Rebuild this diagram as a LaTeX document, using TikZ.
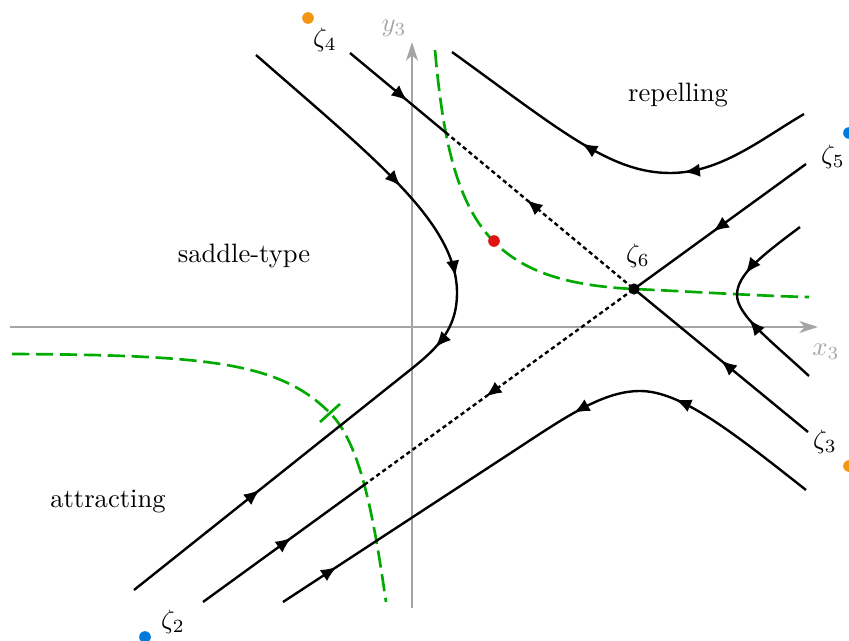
\documentclass[tikz,border=0pt]{standalone}
\usepackage{tikz}
\usetikzlibrary{arrows.meta,decorations.markings,intersections}

\definecolor{sepgreen}{RGB}{0,170,0}
\definecolor{axisgray}{RGB}{165,165,165}
\definecolor{zorange}{RGB}{242,150,20}
\definecolor{zblue}{RGB}{0,122,220}
\definecolor{zred}{RGB}{225,20,20}

\begin{document}
\begin{tikzpicture}[
    x=0.376pt, y=-0.376pt,
    >={Latex[length=6pt,width=5pt]},
    axisline/.style={draw=axisgray, thick, -{Stealth[length=7pt,width=4.5pt,inset=2pt]}},
    axislabel/.style={text=axisgray},
    flow/.style={line width=0.9pt},
    dotline/.style={line width=0.9pt, dash pattern=on 1.6pt off 1.2pt},
    greenline/.style={sepgreen, line width=1pt, dash pattern=on 6.5pt off 2.5pt},
    fw/.style={postaction={decorate, decoration={markings, mark=at position #1 with {\arrow{>}}}}},
    bw/.style={postaction={decorate, decoration={markings, mark=at position #1 with {\arrowreversed{>}}}}},
    region/.style={font=\normalsize}
  ]
  \useasboundingbox (0,0) rectangle (849,641);

  % axes
  \coordinate (xl) at (10,327);
  \coordinate (xr) at (818,327);
  \coordinate (yb) at (412,608);
  \coordinate (yt) at (412,42);
  \draw[axisline] (xl) -- (xr);
  \draw[axisline] (yb) -- (yt);
  \node[axislabel] (xlab) at (826,352) {$x_3$};
  \node[axislabel] (ylab) at (394,28) {$y_3$};

  % green separatrices
  \coordinate (z6) at (634,289);
  \coordinate (tk) at (330,413);
  \draw[greenline, name path=gA] (435,50) .. controls (450,220) and (485,282) .. (z6)
    .. controls (700,292) and (760,296) .. (809,297);
  \draw[greenline, name path=gB] (12,354) .. controls (212,355) and (280,363) .. (tk)
    .. controls (360,443) and (373,512) .. (386,602);
  \coordinate (tk1) at (320,422);
  \coordinate (tk2) at (340,404);
  \draw[sepgreen, line width=1pt] (tk1) -- (tk2);

  % straight lines through zeta_6
  \coordinate (L1a) at (203,602);
  \coordinate (L1b) at (806,164);
  \coordinate (L2a) at (350,53);
  \coordinate (L2b) at (808,432);
  \path[name path=l1] (L1a) -- (z6);
  \path[name path=l2] (L2a) -- (z6);
  \path[name intersections={of=gB and l1, by=cB}];
  \path[name intersections={of=gA and l2, by=cA}];

  \draw[flow, fw=0.55] (L1a) -- (cB);
  \draw[dotline, bw=0.45] (cB) -- (z6);
  \draw[flow, bw=0.46] (z6) -- (L1b);
  \draw[flow, fw=0.6] (L2a) -- (cA);
  \draw[dotline, bw=0.43] (cA) -- (z6);
  \draw[flow, bw=0.5] (z6) -- (L2b);

  % trajectories
  \draw[flow, bw=0.395, bw=0.665] (452,52) .. controls (560,130) and (610,173) .. (670,173)
    .. controls (720,173) and (760,140) .. (804,114);
  \draw[flow, fw=0.255, fw=0.395, fw=0.495, bw=0.79] (256,55) .. controls (376,160) and (457,223) .. (457,293)
    .. controls (457,335) and (430,354) .. (400,378) -- (134,590);
  \draw[flow, fw=0.35, bw=0.6] (800,227) .. controls (760,257) and (737,275) .. (737,295)
    .. controls (737,315) and (770,340) .. (809,376);
  \draw[flow, fw=0.105, bw=0.565, bw=0.74] (283,602) -- (500,460)
    .. controls (560,421) and (600,391) .. (640,391)
    .. controls (680,391) and (730,430) .. (806,490);

  % points
  \fill[black] (z6) circle (2.1pt);
  \coordinate (red) at (494,241);
  \fill[zred] (red) circle (2.2pt);
  \coordinate (p4) at (308,18);
  \coordinate (p5) at (849,133);
  \coordinate (p3) at (849,466);
  \coordinate (p2) at (145,637);
  \fill[zorange] (p4) circle (2.2pt);
  \fill[zblue] (p5) circle (2.2pt);
  \fill[zorange] (p3) circle (2.2pt);
  \fill[zblue] (p2) circle (2.2pt);

  \node (lab6) at (638,256) {$\zeta_6$};
  \node (lab4) at (325,40) {$\zeta_4$};
  \node (lab5) at (833,157) {$\zeta_5$};
  \node (lab3) at (825,442) {$\zeta_3$};
  \node (lab2) at (173,622) {$\zeta_2$};

  \node[region] (rep) at (678,95) {repelling};
  \node[region] (sad) at (244,256) {saddle-type};
  \node[region] (att) at (108,502) {attracting};
\end{tikzpicture}
\end{document}
